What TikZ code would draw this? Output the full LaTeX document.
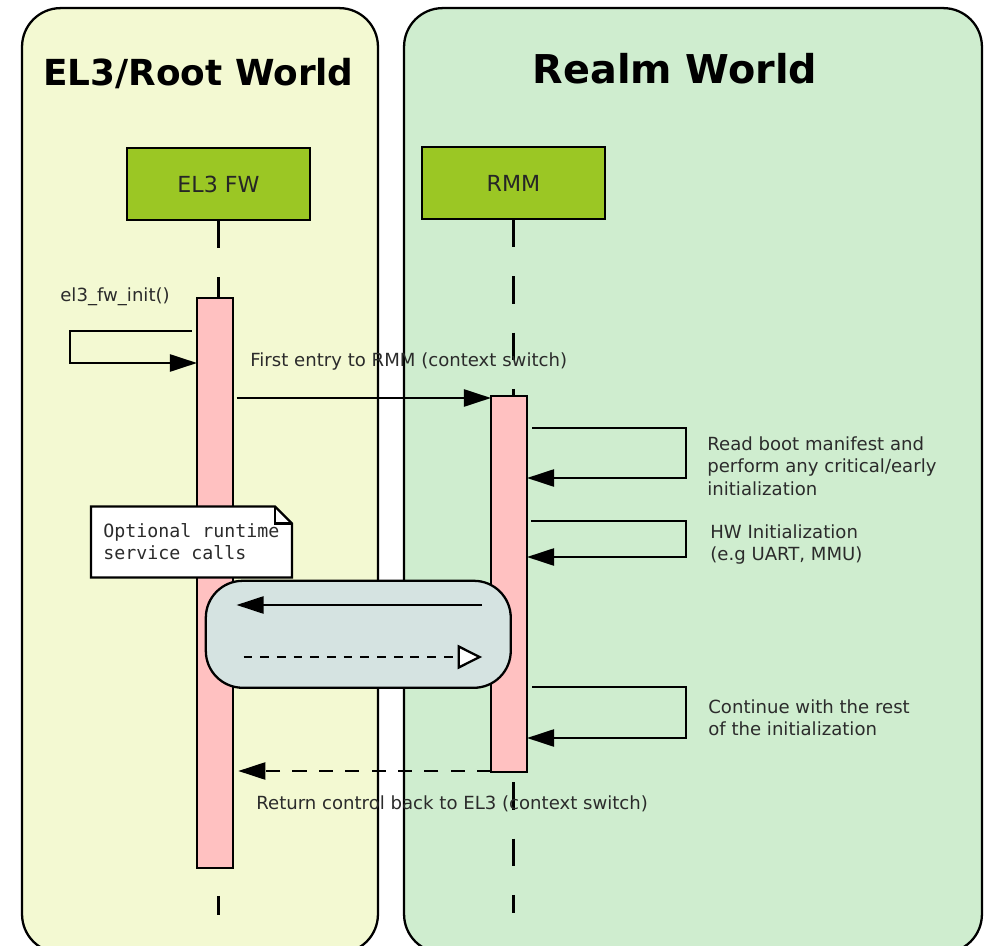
\documentclass[tikz,border=0pt]{standalone}
\usepackage{fontspec}
\setmainfont{DejaVu Sans}
\setmonofont{DejaVu Sans Mono}
\usetikzlibrary{arrows.meta,calc}
\definecolor{rootworld}{HTML}{F3F9D2}
\definecolor{realmworld}{HTML}{CFEDCF}
\definecolor{lifebox}{HTML}{9BC724}
\definecolor{activation}{HTML}{FFC1C1}
\definecolor{callgroup}{HTML}{D5E3E1}
\definecolor{seqtext}{HTML}{2B2B2B}
\tikzset{
  world panel/.style={
    rectangle, rounded corners=22pt,
    draw=black, line width=1.3pt,
    minimum height=18.9cm, inner sep=0pt, outer sep=0pt
  },
  world title/.style={
    text=black, font=\fontsize{20.4}{24}\selectfont\bfseries,
    anchor=base, inner sep=0pt
  },
  seq box/.style={
    rectangle, draw=black, fill=lifebox, text=black!85,
    line width=1.3pt,
    minimum width=3.66cm, minimum height=1.44cm,
    font=\fontsize{12.6}{15}\selectfont
  },
  seq life/.style={
    draw=black, line width=1.3pt, dash pattern=on 15.5pt off 16.5pt
  },
  seq act/.style={
    rectangle, draw=black, fill=activation, line width=1.3pt,
    minimum width=0.72cm, inner sep=0pt, outer sep=0pt
  },
  seq line/.style={draw=black, line width=1.3pt},
  seq call/.style={
    seq line, -{Triangle[length=15.4pt,width=9.7pt]}
  },
  seq return/.style={seq call, dash pattern=on 8pt off 7pt},
  seq reply/.style={
    seq line, dash pattern=on 5pt off 4.5pt,
    -{Triangle[length=14pt,width=13.7pt,fill=white]}
  },
  seq group/.style={
    rectangle, rounded corners=21pt,
    draw=black, fill=callgroup, line width=1.3pt,
    minimum width=6.1cm, minimum height=2.14cm
  },
  seq label/.style={
    text=seqtext, font=\fontsize{10.3}{12.8}\selectfont,
    align=left, inner sep=0pt
  },
  seq note/.style={
    fill=white, text=seqtext, font=\fontsize{10.4}{12.5}\selectfont\ttfamily,
    align=left, inner sep=0pt, outer sep=0pt,
    minimum width=4.02cm, minimum height=1.42cm
  },
  note line/.style={draw=black, line width=1.3pt}
}

\begin{document}
\begin{tikzpicture}[x=0.02cm,y=-0.02cm]
  \useasboundingbox (0,0) rectangle (992,946);
  \fill[white] (0,0) rectangle (992,946);

  % worlds
  \node[world panel,fill=rootworld,minimum width=7.12cm] (rootpanel) at (200,480.5) {};
  \node[world panel,fill=realmworld,minimum width=11.56cm] (realmpanel) at (693,480.5) {};
  \node[world title] (roottitle) at (198.5,86) {EL3/Root World};
  \node[world title,font=\fontsize{22.6}{26}\selectfont\bfseries] (realmtitle) at (675,84) {Realm World};

  % participants
  \node[seq box] (el3fw) at (218.5,184) {EL3 FW};
  \node[seq box] (rmm) at (513.5,183) {RMM};
  \coordinate (el3end) at (218.5,915);
  \coordinate (rmmend) at (513.5,913);
  \draw[seq life] (el3fw.south) -- (el3end);
  \draw[seq life] (rmm.south) -- (rmmend);

  \node[seq act,minimum height=11.4cm] (el3act) at (215,583) {};
  \node[seq act,minimum height=7.52cm] (rmmact) at (509,584) {};

  % message rows
  \coordinate (initA) at (0,331);
  \coordinate (initB) at (0,363);
  \coordinate (initX) at (70,0);
  \coordinate (entry) at (0,398);
  \coordinate (bootA) at (0,428);
  \coordinate (bootB) at (0,478);
  \coordinate (hwA) at (0,521);
  \coordinate (hwB) at (0,557);
  \coordinate (restA) at (0,687);
  \coordinate (restB) at (0,738);
  \coordinate (loopX) at (686,0);
  \coordinate (svcA) at (0,605);
  \coordinate (svcB) at (0,657);
  \coordinate (back) at (0,771);

  \draw[seq call] ([xshift=-3pt]el3act.west |- initA) -| (initX |- initB) -- (el3act.west |- initB);
  \draw[seq call,shorten <=2pt] (el3act.east |- entry) -- (rmmact.west |- entry);
  \draw[seq call] ([xshift=3pt]rmmact.east |- bootA) -| (loopX |- bootB) -- (rmmact.east |- bootB);
  \draw[seq call] ([xshift=2.5pt]rmmact.east |- hwA) -| (loopX |- hwB) -- (rmmact.east |- hwB);
  \draw[seq call] ([xshift=3pt]rmmact.east |- restA) -| (loopX |- restB) -- (rmmact.east |- restB);
  \draw[seq return,shorten >=3pt] (rmmact.west |- back) -- (el3act.east |- back);

  % runtime services
  \node[seq group] (svcgroup) at (358.3,634.3) {};
  \draw[seq call,shorten <=5pt,shorten >=2pt] (rmmact.west |- svcA) -- (el3act.east |- svcA);
  \draw[seq reply,shorten <=6pt,shorten >=5pt] (el3act.east |- svcB) -- (rmmact.west |- svcB);

  \node[seq note] (svcnote) at (191.5,542) {Optional runtime\\service calls};
  \fill[rootworld] ([xshift=-9.7pt]svcnote.north east) -- (svcnote.north east) -- ([yshift=-9.7pt]svcnote.north east) -- cycle;
  \draw[note line] (svcnote.south west) -- (svcnote.north west) -- ([xshift=-9.7pt]svcnote.north east)
    -- ([yshift=-9.7pt]svcnote.north east) -- (svcnote.south east) -- cycle;
  \draw[note line] ([xshift=-9.7pt]svcnote.north east) |- ([yshift=-9.7pt]svcnote.north east);

  % labels
  \node[seq label,anchor=base west] (initlabel) at (60,301) {el3\_fw\_init()};
  \node[seq label,anchor=base west] (entrylabel) at (250,366) {First entry to RMM (context switch)};
  \node[seq label,anchor=north west] (bootlabel) at (707,436) {Read boot manifest and\\perform any critical/early\\initialization};
  \node[seq label,anchor=north west] (hwlabel) at (710,524) {HW Initialization\\(e.g UART, MMU)};
  \node[seq label,anchor=north west] (restlabel) at (708,699) {Continue with the rest\\of the initialization};
  \node[seq label,anchor=base west] (backlabel) at (256,809) {Return control back to EL3 (context switch)};
\end{tikzpicture}
\end{document}
